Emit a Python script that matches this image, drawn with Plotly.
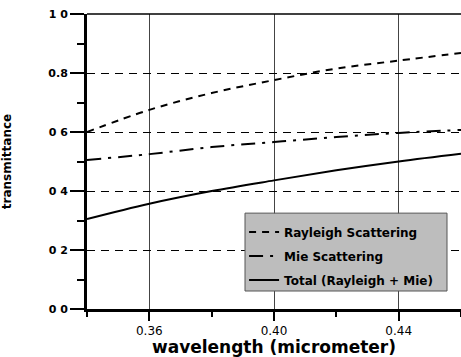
import plotly.graph_objects as go

wavelength = [0.34, 0.36, 0.38, 0.40, 0.42, 0.44, 0.46]
rayleigh = [0.600, 0.675, 0.732, 0.776, 0.815, 0.842, 0.868]
mie = [0.505, 0.525, 0.549, 0.566, 0.583, 0.597, 0.607]
total = [0.305, 0.357, 0.400, 0.436, 0.470, 0.500, 0.526]

series_names = ["Rayleigh Scattering", "Mie Scattering", "Total (Rayleigh + Mie)"]
x_tickvals = [0.36, 0.40, 0.44]
x_ticktext = ["0.36", "0.40", "0.44"]
y_tickvals = [0.0, 0.2, 0.4, 0.6, 0.8, 1.0]
y_ticktext = ["0 0", "0 2", "0 4", "0 6", "0.8", "1 0"]

fig = go.Figure()
fig.add_trace(go.Scatter(x=wavelength, y=rayleigh, name=series_names[0], mode="lines", legendgroup="r",
                         line=dict(color="black", width=2, dash="7px,6px", shape="spline")))
fig.add_trace(go.Scatter(x=wavelength, y=mie, name=series_names[1], mode="lines", legendgroup="m",
                         line=dict(color="black", width=2, dash="14px,7px,3px,7px", shape="spline")))
fig.add_trace(go.Scatter(x=wavelength, y=total, name=series_names[2], mode="lines", legendgroup="t",
                         line=dict(color="black", width=2, shape="spline")))

fig.update_layout(
    width=461, height=357,
    margin=dict(l=87, r=0, t=14, b=48, autoexpand=False),
    paper_bgcolor="white", plot_bgcolor="white",
    font=dict(family="DejaVu Sans", color="black", size=10),
    legend=dict(x=0.42, y=0.31, xanchor="left", yanchor="top",
                bgcolor="rgba(0,0,0,0)", borderwidth=0,
                font=dict(size=12, family="DejaVu Sans", weight="bold"),
                tracegroupgap=5),
    showlegend=True,
)
fig.update_xaxes(
    range=[0.34, 0.46], tickvals=x_tickvals, ticktext=x_ticktext,
    showline=True, linecolor="black", linewidth=3,
    ticks="outside", ticklen=9, tickwidth=2, tickcolor="black",
    minor=dict(dtick=0.02, tick0=0.34, ticks="outside", ticklen=5, tickwidth=2, tickcolor="black", showgrid=False),
    showgrid=True, gridcolor="#444", gridwidth=1,
    zeroline=False, automargin=False,
    tickfont=dict(size=12, family="DejaVu Sans"),
    title=dict(text="wavelength (micrometer)", font=dict(size=17, family="DejaVu Sans", weight="bold"), standoff=1),
)
fig.update_yaxes(
    range=[0.0, 1.0], tickvals=y_tickvals, ticktext=y_ticktext,
    showline=True, linecolor="black", linewidth=3,
    ticks="outside", ticklen=14, tickwidth=2, tickcolor="black",
    minor=dict(dtick=0.1, tick0=0.0, ticks="outside", ticklen=7, tickwidth=2, tickcolor="black", showgrid=False),
    showgrid=True, gridcolor="black", gridwidth=1, griddash="8px,6px",
    zeroline=False, automargin=False,
    tickfont=dict(size=11, family="DejaVu Sans", weight="bold"),
    title=dict(text="transmittance", font=dict(size=12, family="DejaVu Sans", weight="bold"), standoff=38),
)
fig.add_shape(type="line", xref="paper", yref="paper", x0=0, x1=1, y0=1, y1=1,
              line=dict(color="black", width=1.5))
# legend background panel
fig.add_shape(type="rect", xref="paper", yref="paper", x0=0.4225, x1=0.9626, y0=0.061, y1=0.325,
              fillcolor="#bdbdbd", line=dict(color="#555", width=1), layer="above")

fig.write_html("out.html", config={"displayModeBar": False},
               post_script="document.body.style.margin='0';")
